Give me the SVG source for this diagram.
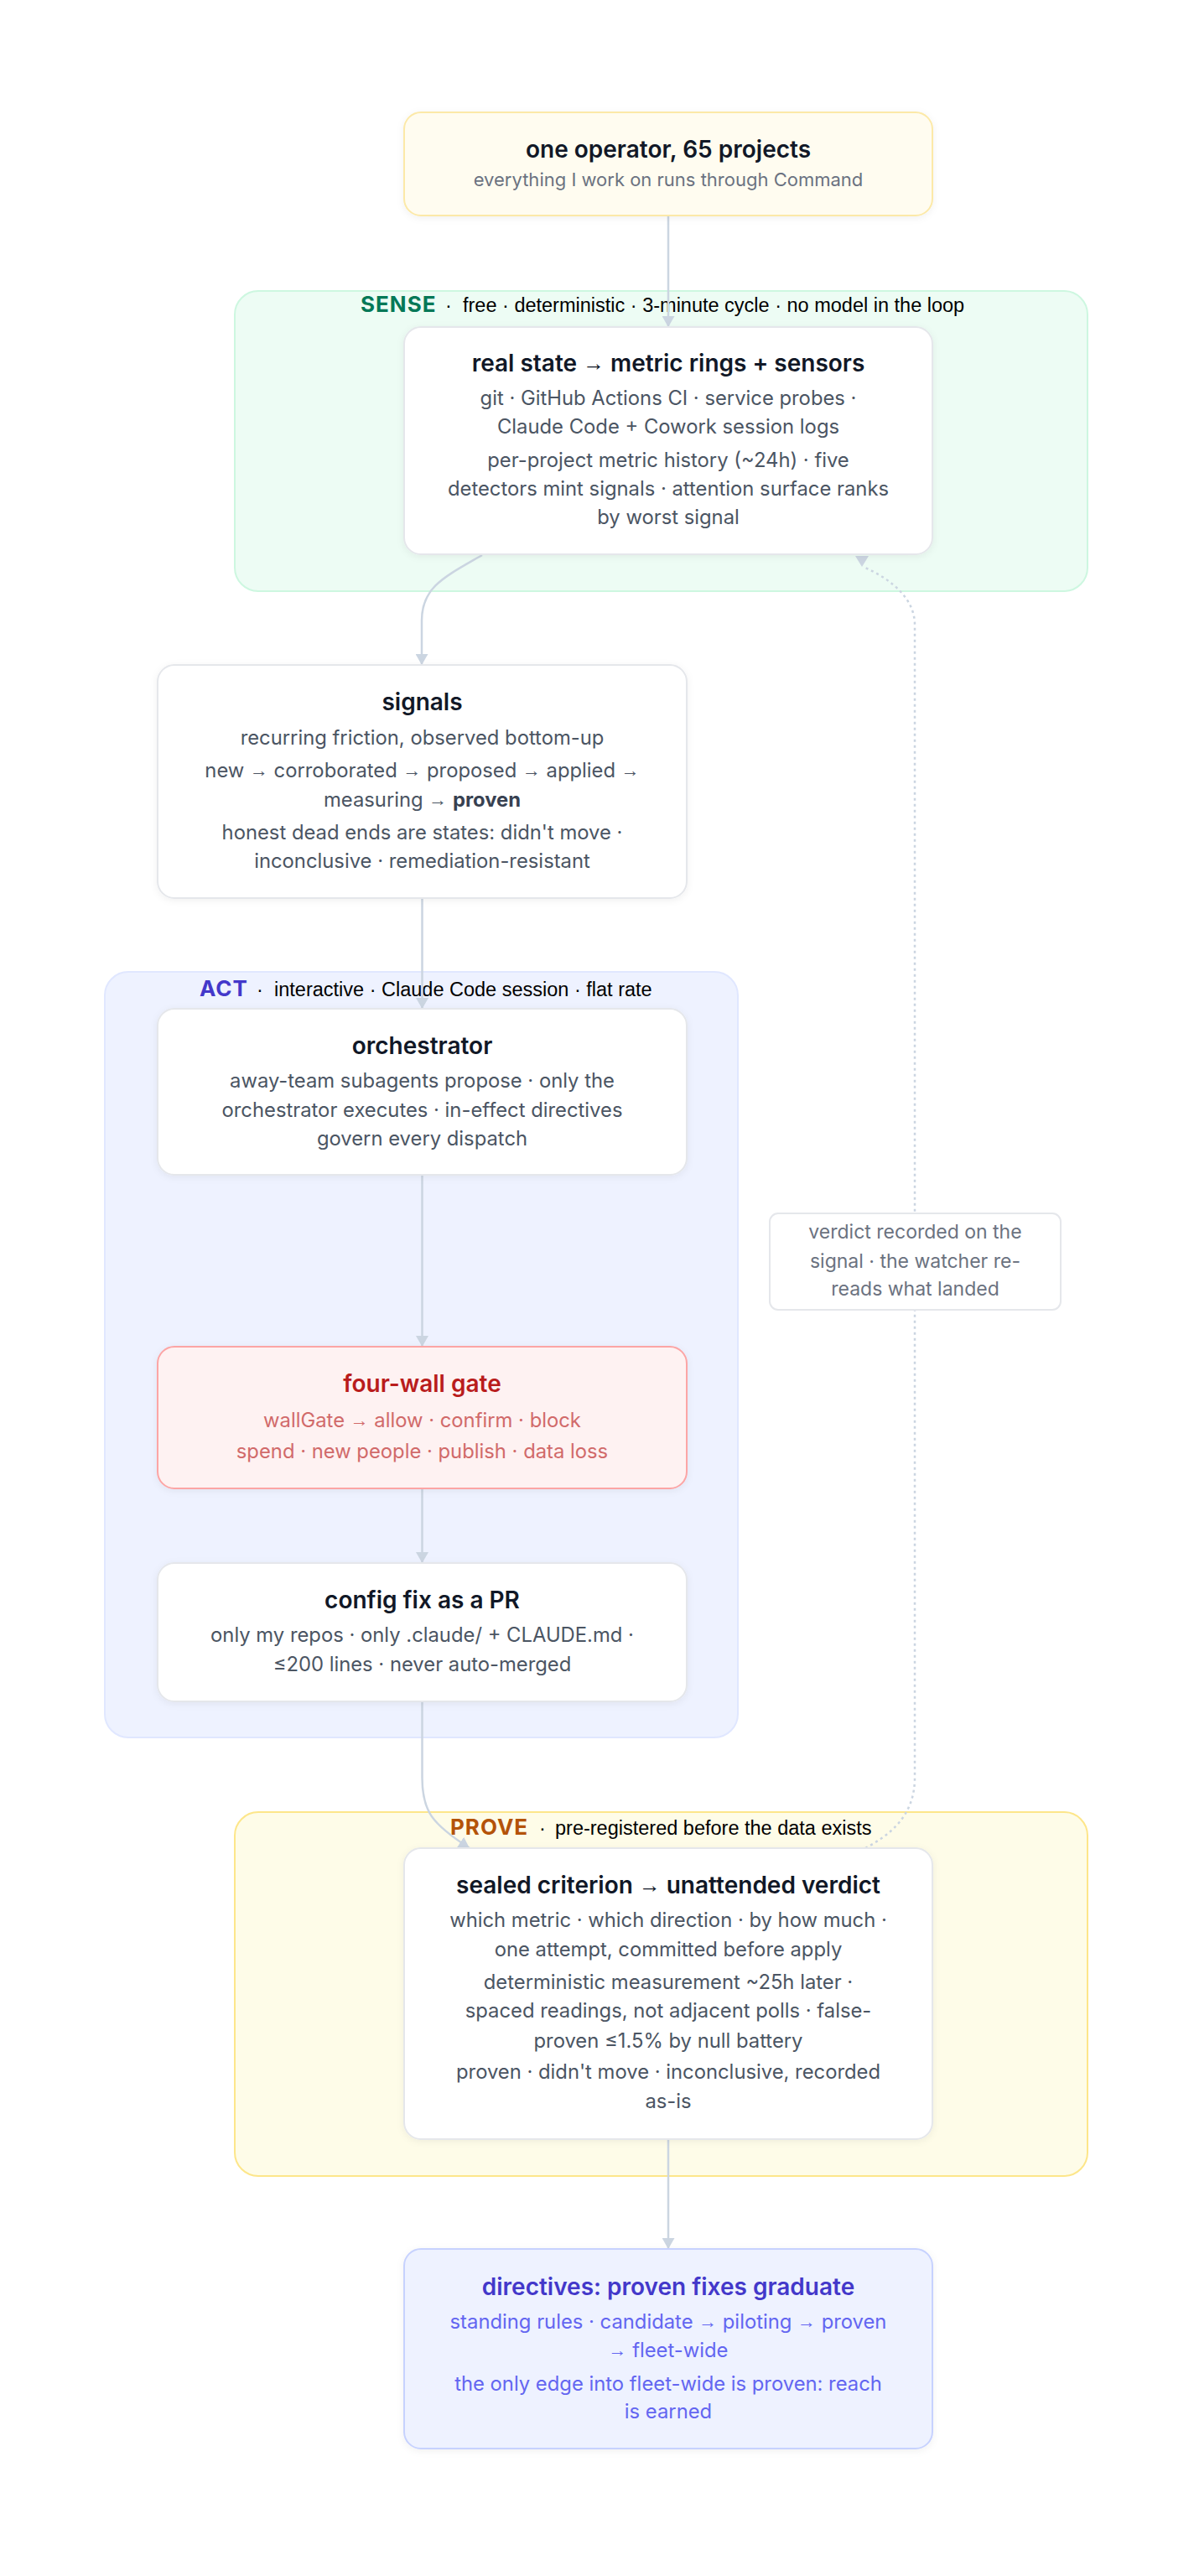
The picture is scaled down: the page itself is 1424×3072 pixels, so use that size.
<svg xmlns="http://www.w3.org/2000/svg" width="1424" height="3072" viewBox="0 0 1424 3072">
<defs>
<style>
.t{font-family:Inter,"Noto Sans",sans-serif;font-size:28px;font-weight:600;fill:#111827;text-anchor:middle}
.b{font-family:Inter,"Noto Sans",sans-serif;font-size:23.8px;fill:#4b5563;text-anchor:middle}
.sub{font-family:Inter,"Noto Sans",sans-serif;font-size:22px;fill:#6b7280;text-anchor:middle}
.lbl{font-family:Inter,"Noto Sans",sans-serif;font-size:23px;fill:#6b7280;text-anchor:middle}
.hl{font-family:Inter,"Noto Sans",sans-serif;font-size:26px;font-weight:700;letter-spacing:1px}
.hd{font-family:"Liberation Sans",Arial,sans-serif;font-size:23.5px;fill:#000}
.ar{font-family:"Liberation Sans",Arial,sans-serif;font-weight:400;font-size:92%;baseline-shift:1.5px}
.node{fill:#fff;stroke:#e5e7eb;stroke-width:2}
.edge{fill:none;stroke:#cbd5e1;stroke-width:2.5}
.dot{fill:none;stroke:#cbd5e1;stroke-width:2.5;stroke-dasharray:3 4}
</style>
<marker id="ah" viewBox="0 0 13 15" refX="13" refY="7.5" markerWidth="13" markerHeight="15" markerUnits="userSpaceOnUse" orient="auto">
<path d="M0,0 L13,7.5 L0,15 Z" fill="#cbd5e1"/>
</marker>
<filter id="sh" x="-10%" y="-10%" width="120%" height="130%">
<feDropShadow dx="0" dy="2" stdDeviation="4" flood-color="#0f172a" flood-opacity="0.06"/>
</filter>
</defs>
<rect width="1424" height="3072" fill="#fff"/>

<g id="containers">
<g id="sense">
<rect x="280" y="347" width="1017" height="358" rx="28" fill="#edfcf4" stroke="#cdf7e0" stroke-width="2"/>
<text y="372"><tspan class="hl" x="430" fill="#047857">SENSE</tspan><tspan class="hd" x="531">·</tspan><tspan class="hd" x="552">free · deterministic · 3-minute cycle · no model in the loop</tspan></text>
</g>
<g id="act">
<rect x="125" y="1159" width="755" height="913" rx="28" fill="#eef2ff" stroke="#e0e7ff" stroke-width="2"/>
<text y="1188"><tspan class="hl" x="238" fill="#4338ca">ACT</tspan><tspan class="hd" x="306">·</tspan><tspan class="hd" x="327">interactive · Claude Code session · flat rate</tspan></text>
</g>
<g id="prove">
<rect x="280" y="2161" width="1017" height="434" rx="28" fill="#fefce8" stroke="#fde68a" stroke-width="2"/>
<text y="2188"><tspan class="hl" x="537" fill="#b45309">PROVE</tspan><tspan class="hd" x="643">·</tspan><tspan class="hd" x="662">pre-registered before the data exists</tspan></text>
</g>
</g>

<g id="connectors">
<path class="edge" d="M797,257 L797,390" marker-end="url(#ah)"/>
<path class="edge" d="M575,662 C530,688 503,700 503,740 L503,793" marker-end="url(#ah)"/>
<path class="edge" d="M503.5,1071 L503.5,1203" marker-end="url(#ah)"/>
<path class="edge" d="M503.5,1401 L503.5,1606" marker-end="url(#ah)"/>
<path class="edge" d="M503.5,1775 L503.5,1864" marker-end="url(#ah)"/>
<path class="edge" d="M503.5,2029 L503.5,2120 C503.5,2160 515,2175 560,2204" marker-end="url(#ah)"/>
<path class="edge" d="M797,2551 L797,2682" marker-end="url(#ah)"/>
<path class="dot" d="M1032,2204 C1062,2188 1091,2165 1091,2120 L1091,745 C1091,715 1065,692 1032,677"/>
<polygon points="1020,663 1036,663 1028,676" fill="#cbd5e1"/>
</g>

<g id="n-operator">
<rect x="482" y="134" width="630" height="123" rx="20" fill="#fffcf0" stroke="#fce9a8" stroke-width="2" filter="url(#sh)"/>
<text class="t" x="797" y="188">one operator, 65 projects</text>
<text class="sub" x="797" y="222">everything I work on runs through Command</text>
</g>

<g id="n-realstate">
<rect class="node" x="482" y="390" width="630" height="271" rx="20" filter="url(#sh)"/>
<text class="t" x="797" y="443">real state <tspan class="ar">→</tspan> metric rings + sensors</text>
<text class="b" x="797" y="483">git · GitHub Actions CI · service probes ·</text>
<text class="b" x="797" y="517">Claude Code + Cowork session logs</text>
<text class="b" x="797" y="557">per-project metric history (~24h) · five</text>
<text class="b" x="797" y="591">detectors mint signals · attention surface ranks</text>
<text class="b" x="797" y="625">by worst signal</text>
</g>

<g id="n-signals">
<rect class="node" x="188" y="793" width="631" height="278" rx="20" filter="url(#sh)"/>
<text class="t" x="503.5" y="847">signals</text>
<text class="b" x="503.5" y="888">recurring friction, observed bottom-up</text>
<text class="b" x="503.5" y="927">new <tspan class="ar">→</tspan> corroborated <tspan class="ar">→</tspan> proposed <tspan class="ar">→</tspan> applied <tspan class="ar">→</tspan></text>
<text class="b" x="503.5" y="962">measuring <tspan class="ar">→</tspan> <tspan font-weight="700" fill="#374151">proven</tspan></text>
<text class="b" x="503.5" y="1001">honest dead ends are states: didn't move ·</text>
<text class="b" x="503.5" y="1035">inconclusive · remediation-resistant</text>
</g>

<g id="n-orchestrator">
<rect class="node" x="188" y="1203" width="631" height="198" rx="20" filter="url(#sh)"/>
<text class="t" x="503.5" y="1257">orchestrator</text>
<text class="b" x="503.5" y="1297">away-team subagents propose · only the</text>
<text class="b" x="503.5" y="1332">orchestrator executes · in-effect directives</text>
<text class="b" x="503.5" y="1366">govern every dispatch</text>
</g>

<g id="n-gate">
<rect x="188" y="1606" width="631" height="169" rx="20" fill="#fef2f2" stroke="#fca5a5" stroke-width="2" filter="url(#sh)"/>
<text class="t" x="503.5" y="1660" style="fill:#b91c1c">four-wall gate</text>
<text class="b" x="503.5" y="1702" style="fill:#d16a6a">wallGate <tspan class="ar">→</tspan> allow · confirm · block</text>
<text class="b" x="503.5" y="1739" style="fill:#d16a6a">spend · new people · publish · data loss</text>
</g>

<g id="n-config">
<rect class="node" x="188" y="1864" width="631" height="165" rx="20" filter="url(#sh)"/>
<text class="t" x="503.5" y="1918">config fix as a PR</text>
<text class="b" x="503.5" y="1958">only my repos · only .claude/ + CLAUDE.md ·</text>
<text class="b" x="503.5" y="1993">≤200 lines · never auto-merged</text>
</g>

<g id="n-verdict-label">
<rect x="918" y="1447" width="347" height="115" rx="10" fill="#fff" stroke="#e5e7eb" stroke-width="2"/>
<text class="lbl" x="1091.5" y="1477">verdict recorded on the</text>
<text class="lbl" x="1091.5" y="1512">signal · the watcher re-</text>
<text class="lbl" x="1091.5" y="1545">reads what landed</text>
</g>

<g id="n-sealed">
<rect class="node" x="482" y="2204" width="630" height="347" rx="20" filter="url(#sh)"/>
<text class="t" x="797" y="2258">sealed criterion <tspan class="ar">→</tspan> unattended verdict</text>
<text class="b" x="797" y="2298">which metric · which direction · by how much ·</text>
<text class="b" x="797" y="2333">one attempt, committed before apply</text>
<text class="b" x="797" y="2372">deterministic measurement ~25h later ·</text>
<text class="b" x="797" y="2406">spaced readings, not adjacent polls · false-</text>
<text class="b" x="797" y="2442">proven ≤1.5% by null battery</text>
<text class="b" x="797" y="2479">proven · didn't move · inconclusive, recorded</text>
<text class="b" x="797" y="2514">as-is</text>
</g>

<g id="n-directives">
<rect x="482" y="2682" width="630" height="238" rx="20" fill="#eef2ff" stroke="#c7d2fe" stroke-width="2" filter="url(#sh)"/>
<text class="t" x="797" y="2737" style="fill:#4338ca">directives: proven fixes graduate</text>
<text class="b" x="797" y="2777" style="fill:#6366f1">standing rules · candidate <tspan class="ar">→</tspan> piloting <tspan class="ar">→</tspan> proven</text>
<text class="b" x="797" y="2811" style="fill:#6366f1"><tspan class="ar">→</tspan> fleet-wide</text>
<text class="b" x="797" y="2851" style="fill:#6366f1">the only edge into fleet-wide is proven: reach</text>
<text class="b" x="797" y="2884" style="fill:#6366f1">is earned</text>
</g>
</svg>
